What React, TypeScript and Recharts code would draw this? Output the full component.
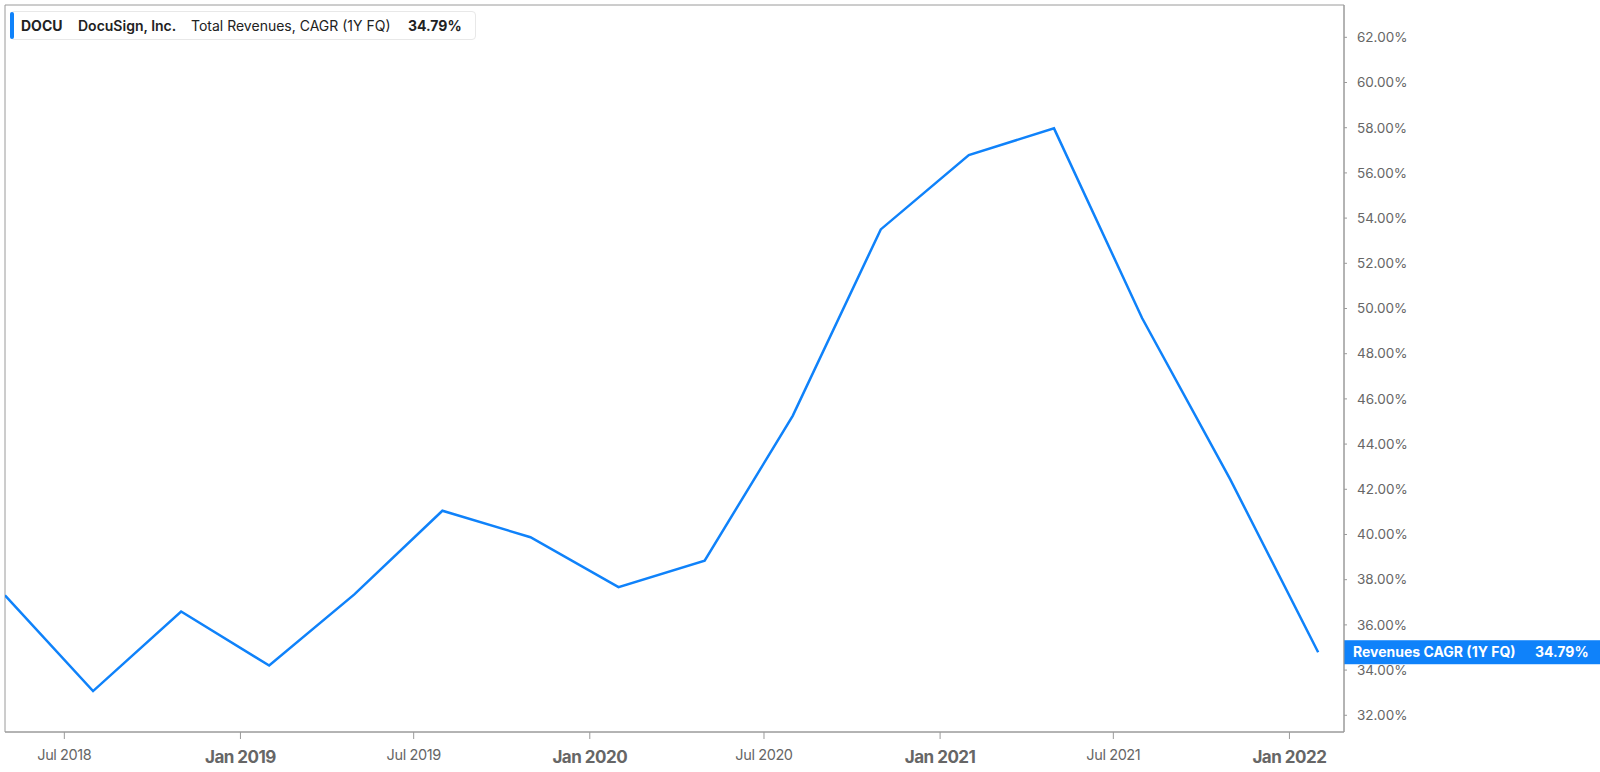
import React from 'react';
import { LineChart, Line, XAxis, YAxis, ReferenceArea, ReferenceLine } from 'recharts';

// fiscal quarter ends and the 1Y revenue CAGR (%) for each
const periodEnds = [
  '2018-04-30', '2018-07-31', '2018-10-31', '2019-01-31',
  '2019-04-30', '2019-07-31', '2019-10-31', '2020-01-31',
  '2020-04-30', '2020-07-31', '2020-10-31', '2021-01-31',
  '2021-04-30', '2021-07-31', '2021-10-31', '2022-01-31',
];
const cagrValues = [
  37.31, 33.07, 36.59, 34.2,
  37.35, 41.05, 39.88, 37.67,
  38.84, 45.25, 53.5, 56.79,
  57.97, 49.58, 42.45, 34.79,
];

const tickDates = ['2018-07-01', '2019-01-01', '2019-07-01', '2020-01-01', '2020-07-01', '2021-01-01', '2021-07-01', '2022-01-01'];
const tickLabels = ['Jul 2018', 'Jan 2019', 'Jul 2019', 'Jan 2020', 'Jul 2020', 'Jan 2021', 'Jul 2021', 'Jan 2022'];
const yTicks = [32, 34, 36, 38, 40, 42, 44, 46, 48, 50, 52, 54, 56, 58, 60, 62];

const lastValue = cagrValues[cagrValues.length - 1];
const tickTimes = tickDates.map(d => Date.parse(d));
const xDomain = [Date.parse('2018-04-30'), Date.parse('2022-02-27')];
const yDomain = [31.26, 63.43];

const data = periodEnds.map((d, i) => ({ t: Date.parse(d), value: cagrValues[i] }));

const BLUE = '#0f82fa';
const FONT = 'Inter, "Noto Sans", sans-serif';

const XTick = (props: any) => {
  const { x, y, payload } = props;
  const label = tickLabels[tickTimes.indexOf(payload.value)] || '';
  const isJan = label.startsWith('Jan');
  return (
    <text
      x={x}
      y={y + (isJan ? 24 : 21)}
      textAnchor="middle"
      fontSize={isJan ? 17 : 14.5}
      fontWeight={isJan ? 700 : 400}
      fill="#666"
      fontFamily={FONT}
      letterSpacing={isJan ? -0.5 : -0.4}
    >
      {label}
    </text>
  );
};

const EndLabel = (props: any) => {
  const { viewBox } = props;
  const x = viewBox.x + viewBox.width;
  const y = viewBox.y;
  return (
    <g>
      <rect x={x} y={y - 12} width={260} height={24} fill={BLUE} />
      <text x={x + 9} y={y + 5} fill="#fff" fontSize={14} fontWeight={700} fontFamily={FONT}>
        Revenues CAGR (1Y FQ)
      </text>
      <text x={x + 191} y={y + 5} fill="#fff" fontSize={14} fontWeight={700} fontFamily={FONT}>
        {lastValue.toFixed(2)}%
      </text>
    </g>
  );
};

export default function App() {
  return (
    <div style={{ position: 'absolute', left: 0, top: 0, width: 1600, height: 772, background: '#fff', fontFamily: FONT }}>
      <LineChart width={1600} height={772} data={data} margin={{ top: 5, right: 176, bottom: 0, left: 5 }}>
        <ReferenceArea
          x1={xDomain[0]}
          x2={xDomain[1]}
          y1={yDomain[0]}
          y2={yDomain[1]}
          fill="none"
          stroke="#9a9a9a"
          strokeWidth={1}
        />
        <XAxis
          dataKey="t"
          type="number"
          scale="time"
          domain={xDomain}
          ticks={tickTimes}
          interval={0}
          tickSize={7}
          tickMargin={0}
          stroke="#9a9a9a"
          tickLine={{ stroke: '#9a9a9a' }}
          tick={<XTick />}
          height={40}
          allowDataOverflow
        />
        <YAxis
          orientation="right"
          type="number"
          domain={yDomain}
          ticks={yTicks}
          interval={0}
          tickSize={3}
          tickMargin={10}
          stroke="#9a9a9a"
          tick={{ fontSize: 13.5, fill: '#666', fontFamily: FONT }}
          tickFormatter={(v: number) => `${v.toFixed(2)}%`}
          width={80}
          allowDataOverflow
        />
        <Line
          type="linear"
          dataKey="value"
          stroke={BLUE}
          strokeWidth={2.5}
          dot={false}
          activeDot={false}
          isAnimationActive={false}
        />
        <ReferenceLine y={lastValue} stroke="none" ifOverflow="extendDomain" label={<EndLabel />} />
      </LineChart>
      <div
        style={{
          position: 'absolute',
          left: 10,
          top: 11,
          width: 466,
          height: 29,
          border: '1px solid #e8e8e8',
          borderRadius: 4,
          background: '#fff',
          boxSizing: 'border-box',
          display: 'flex',
          alignItems: 'center',
          fontSize: 14,
          color: '#222',
          whiteSpace: 'nowrap',
        }}
      >
        <div style={{ position: 'absolute', left: -1, top: 0, width: 4, height: 27, background: BLUE, borderRadius: 3 }} />
        <span style={{ position: 'absolute', left: 10, fontWeight: 700 }}>DOCU</span>
        <span style={{ position: 'absolute', left: 67, fontWeight: 600 }}>DocuSign, Inc.</span>
        <span style={{ position: 'absolute', left: 180, fontWeight: 400 }}>Total Revenues, CAGR (1Y FQ)</span>
        <span style={{ position: 'absolute', left: 397, fontWeight: 700 }}>34.79%</span>
      </div>
    </div>
  );
}
